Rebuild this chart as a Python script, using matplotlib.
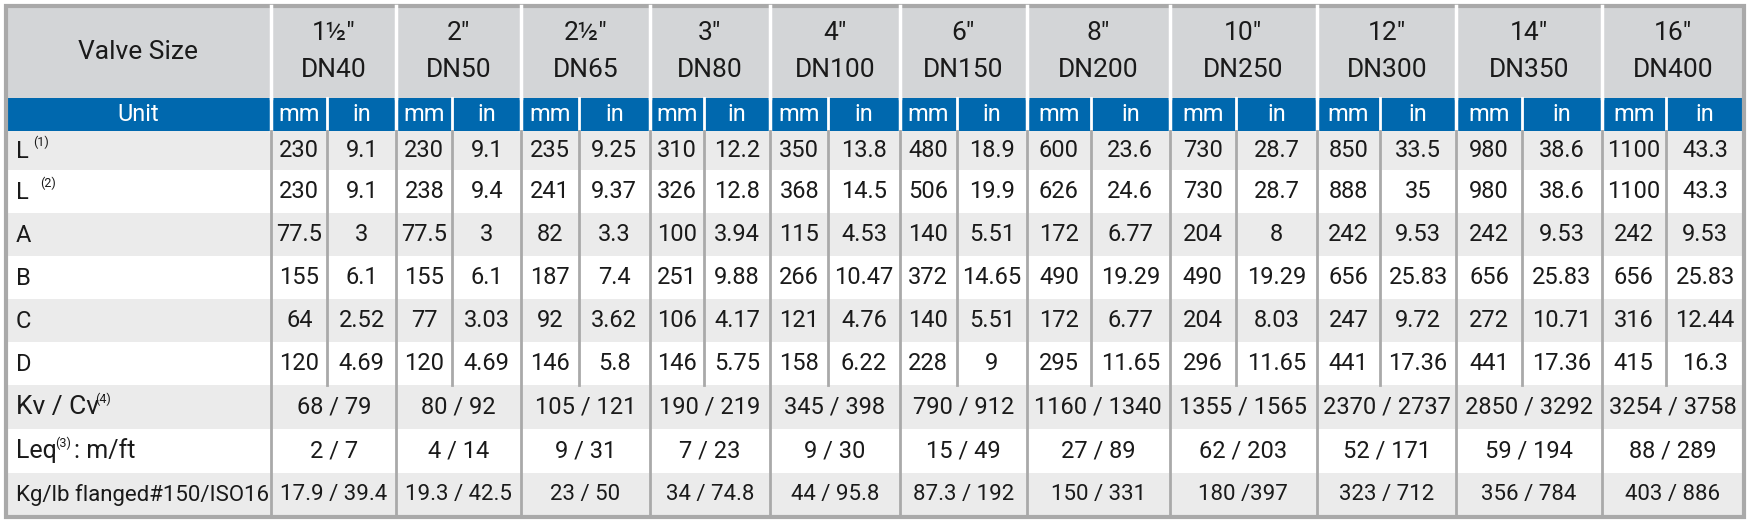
import matplotlib
matplotlib.use("Agg")
import matplotlib.pyplot as plt
from matplotlib.patches import Rectangle

sizes_in = ['1½"', '2"', '2½"', '3"', '4"', '6"', '8"', '10"', '12"', '14"', '16"']
sizes_dn = ["DN40", "DN50", "DN65", "DN80", "DN100", "DN150", "DN200", "DN250", "DN300", "DN350", "DN400"]
row_labels = [("L", "(1)"), ("L ", "(2)"), ("A", ""), ("B", ""), ("C", ""), ("D", "")]
L1_mm = ["230", "230", "235", "310", "350", "480", "600", "730", "850", "980", "1100"]
L1_in = ["9.1", "9.1", "9.25", "12.2", "13.8", "18.9", "23.6", "28.7", "33.5", "38.6", "43.3"]
L2_mm = ["230", "238", "241", "326", "368", "506", "626", "730", "888", "980", "1100"]
L2_in = ["9.1", "9.4", "9.37", "12.8", "14.5", "19.9", "24.6", "28.7", "35", "38.6", "43.3"]
A_mm = ["77.5", "77.5", "82", "100", "115", "140", "172", "204", "242", "242", "242"]
A_in = ["3", "3", "3.3", "3.94", "4.53", "5.51", "6.77", "8", "9.53", "9.53", "9.53"]
B_mm = ["155", "155", "187", "251", "266", "372", "490", "490", "656", "656", "656"]
B_in = ["6.1", "6.1", "7.4", "9.88", "10.47", "14.65", "19.29", "19.29", "25.83", "25.83", "25.83"]
C_mm = ["64", "77", "92", "106", "121", "140", "172", "204", "247", "272", "316"]
C_in = ["2.52", "3.03", "3.62", "4.17", "4.76", "5.51", "6.77", "8.03", "9.72", "10.71", "12.44"]
D_mm = ["120", "120", "146", "146", "158", "228", "295", "296", "441", "441", "415"]
D_in = ["4.69", "4.69", "5.8", "5.75", "6.22", "9", "11.65", "11.65", "17.36", "17.36", "16.3"]
kv_cv = ["68 / 79", "80 / 92", "105 / 121", "190 / 219", "345 / 398", "790 / 912", "1160 / 1340",
         "1355 / 1565", "2370 / 2737", "2850 / 3292", "3254 / 3758"]
leq = ["2 / 7", "4 / 14", "9 / 31", "7 / 23", "9 / 30", "15 / 49", "27 / 89", "62 / 203",
       "52 / 171", "59 / 194", "88 / 289"]
weight = ["17.9 / 39.4", "19.3 / 42.5", "23 / 50", "34 / 74.8", "44 / 95.8", "87.3 / 192",
          "150 / 331", "180 /397", "323 / 712", "356 / 784", "403 / 886"]

# layout (pixels)
S = 1750 / 1568
col_edges = [e * S for e in [5, 243, 355, 467, 582, 690, 806, 920, 1048, 1180, 1305, 1435, 1563]]
row_edges = [e * S for e in [5, 88, 117, 152, 191, 229, 268, 306, 345, 384, 424, 463]]
GRAY = "#d3d5d7"; BLUE = "#0068ae"; LIGHT = "#ebebeb"; LINE = "#a9a9a9"; TXT = "#1a1a1a"
FONT = "Roboto"

fig = plt.figure(figsize=(17.5, 5.25), dpi=100)
ax = fig.add_axes([0, 0, 1, 1])
ax.set_xlim(0, 1750); ax.set_ylim(525, 0); ax.axis("off")

L, R = col_edges[0], col_edges[-1]
def band(y0, y1, c):
    ax.add_patch(Rectangle((L, y0), R - L, y1 - y0, color=c, lw=0))

band(row_edges[0], row_edges[1], GRAY)
band(row_edges[1], row_edges[2], BLUE)
for i in range(9):
    band(row_edges[2 + i], row_edges[3 + i], LIGHT if i % 2 == 0 else "white")

def t(x, y, s, size=17, color=TXT, ha="center"):
    ax.text(x, y, s, fontsize=size, color=color, ha=ha, va="center", family=FONT)

def mid(a, b): return (a + b) / 2

# header
t(mid(L, col_edges[1]), mid(row_edges[0], row_edges[1]), "Valve Size", 19)
for i in range(11):
    x0, x1 = col_edges[i + 1], col_edges[i + 2]
    y0, y1 = row_edges[0], row_edges[1]
    t(mid(x0, x1), y0 + (y1 - y0) * 0.30, sizes_in[i], 19)
    t(mid(x0, x1), y0 + (y1 - y0) * 0.70, sizes_dn[i], 19)

t(mid(L, col_edges[1]), mid(row_edges[1], row_edges[2]), "Unit", 17, "white")
splits = []
for i in range(11):
    x0, x1 = col_edges[i + 1], col_edges[i + 2]
    sp = x0 + (x1 - x0) * 0.45
    splits.append(sp)
    ym = mid(row_edges[1], row_edges[2])
    t(mid(x0, sp), ym, "mm", 17, "white")
    t(mid(sp, x1), ym, "in", 17, "white")

mm_rows = [L1_mm, L2_mm, A_mm, B_mm, C_mm, D_mm]
in_rows = [L1_in, L2_in, A_in, B_in, C_in, D_in]
for r in range(6):
    y0, y1 = row_edges[2 + r], row_edges[3 + r]
    ym = mid(y0, y1)
    lab, sup = row_labels[r]
    ax.text(L + 10, ym + 1, lab, fontsize=17, color=TXT, ha="left", va="center", family=FONT)
    if sup:
        ax.text(L + 10 + (25 if lab.endswith(" ") else 18), ym - 8, sup, fontsize=9, color=TXT,
                ha="left", va="center", family=FONT)
    for i in range(11):
        x0, x1 = col_edges[i + 1], col_edges[i + 2]
        t(mid(x0, splits[i]), ym, mm_rows[r][i], 17)
        t(mid(splits[i], x1), ym, in_rows[r][i], 17)

merged = [kv_cv, leq, weight]
for k in range(3):
    y0, y1 = row_edges[8 + k], row_edges[9 + k]
    ym = mid(y0, y1)
    for i in range(11):
        t(mid(col_edges[i + 1], col_edges[i + 2]), ym, merged[k][i], 16 if k == 2 else 17)
ax.text(L + 10, row_edges[8] + (row_edges[9]-row_edges[8])/2, "Kv / Cv", fontsize=19, color=TXT, ha="left", va="center", family=FONT)
ax.text(L + 90, row_edges[8] + 14, "(4)", fontsize=9, color=TXT, ha="left", va="center", family=FONT)
ym = mid(row_edges[9], row_edges[10])
ax.text(L + 10, ym, "Leq", fontsize=18, color=TXT, ha="left", va="center", family=FONT)
ax.text(L + 50, ym - 8, "(3)", fontsize=9, color=TXT, ha="left", va="center", family=FONT)
ax.text(L + 68, ym, ": m/ft", fontsize=18, color=TXT, ha="left", va="center", family=FONT)
t(L + 10, mid(row_edges[10], row_edges[11]), "Kg/lb flanged#150/ISO16", 16, ha="left")

# lines
for i, x in enumerate(col_edges[1:-1]):
    ax.plot([x, x], [row_edges[0], row_edges[1]], color="white", lw=2.5)
    ax.plot([x, x], [row_edges[1], row_edges[2]], color="white", lw=2.5)
    ax.plot([x, x], [row_edges[2], row_edges[-1]], color=LINE, lw=2)
for sp in splits:
    ax.plot([sp, sp], [row_edges[1], row_edges[2]], color="white", lw=2)
    ax.plot([sp, sp], [row_edges[2], row_edges[8]], color=LINE, lw=2)
ax.add_patch(Rectangle((L, row_edges[0]), R - L, row_edges[-1] - row_edges[0], fill=False,
                       ec=LINE, lw=3))

fig.savefig("out.png", dpi=100)
